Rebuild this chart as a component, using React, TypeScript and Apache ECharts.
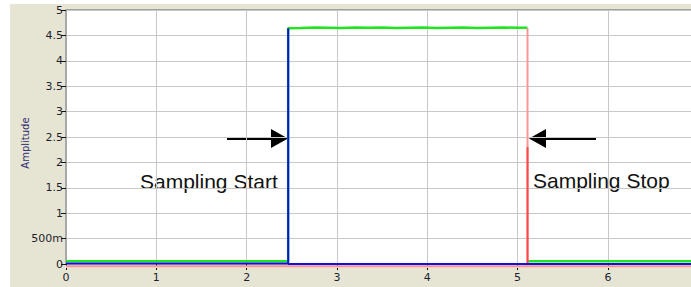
import React, { useEffect, useRef } from "react";
import * as echarts from "echarts";

const xTicks = [0, 1, 2, 3, 4, 5, 6];
const yTickLabels = ["0", "500m", "1", "1.5", "2", "2.5", "3", "3.5", "4", "4.5", "5"];
const xMax = 6.92;
const startX = 2.46;
const stopX = 5.11;
const highLevel = 4.64;

// green: measured signal
const greenTopX = [2.46, 2.6, 2.75, 2.9, 3.05, 3.2, 3.35, 3.5, 3.65, 3.8, 3.95, 4.1, 4.25, 4.4, 4.55, 4.7, 4.85, 5.0, 5.11];
const greenTopY = [4.65, 4.645, 4.655, 4.65, 4.645, 4.655, 4.65, 4.655, 4.645, 4.65, 4.655, 4.645, 4.65, 4.655, 4.645, 4.65, 4.655, 4.65, 4.65];
const greenLow = 0.055;
const blueLow = 0.0;
const redLow = -0.045;
const redDarkTop = 2.3;

export default function App() {
  const ref = useRef<HTMLDivElement>(null);
  useEffect(() => {
    if (!ref.current) return;
    const chart = echarts.init(ref.current, null, { renderer: "svg" });

    const green: (number[] | string)[] = [[0, greenLow], [startX, greenLow], [startX, highLevel]];
    greenTopX.forEach((x, i) => green.push([x, greenTopY[i]]));
    green.push("-", [stopX, greenLow], [xMax, greenLow]);

    const blue = [[0, 0.01], [startX, 0.01], [startX, highLevel], [startX, blueLow], [xMax, blueLow]];
    const red = [[0, redLow], [stopX, redLow], [stopX, highLevel], [stopX, redLow], [xMax, redLow]];
    const redDark = [[stopX, redDarkTop], [stopX, 0]];

    const labelFont = { fontFamily: "DejaVu Sans", fontSize: 11, color: "#1e1e2e" };

    chart.setOption({
      animation: false,
      backgroundColor: "transparent",
      grid: {
        left: 66,
        top: 10,
        right: 0,
        bottom: 23,
        show: true,
        backgroundColor: "#ffffff",
        borderWidth: 0,
      },
      xAxis: {
        type: "value",
        min: 0,
        max: xMax,
        interval: 1,
        axisLine: { show: false },
        axisTick: { show: true, length: 8, lineStyle: { color: "#111", type: [2, 2], width: 1 } },
        axisLabel: {
          ...labelFont,
          margin: 8,
          showMaxLabel: false,
          formatter: (v: number) => (xTicks.includes(v) ? String(v) : ""),
        },
        splitLine: { show: true, lineStyle: { color: "#c8c8c8", width: 1 } },
      },
      yAxis: {
        type: "value",
        min: 0,
        max: 5,
        interval: 0.5,
        axisLine: { show: true, lineStyle: { color: "#a8a8a8", width: 2 } },
        axisTick: { show: true, length: 5, lineStyle: { color: "#111" } },
        axisLabel: {
          ...labelFont,
          margin: 3,
          formatter: (v: number) => yTickLabels[Math.round(v * 2)] ?? "",
        },
        splitLine: { show: true, lineStyle: { color: "#c8c8c8", width: 1 } },
      },
      graphic: [
        {
          type: "line",
          shape: { x1: 66, y1: 10, x2: 691, y2: 10 },
          style: { stroke: "#a0a0a0", lineWidth: 2 },
        },
        {
          type: "text",
          x: 25,
          y: 143,
          rotation: Math.PI / 2,
          style: {
            text: "Amplitude",
            fontFamily: "DejaVu Sans",
            fontSize: 10,
            fill: "#2e2e6e",
            align: "center",
            verticalAlign: "middle",
          },
        },
        {
          type: "line",
          shape: { x1: 227, y1: 138.5, x2: 273, y2: 138.5 },
          style: { stroke: "#000", lineWidth: 3 },
        },
        {
          type: "polygon",
          shape: { points: [[271, 129], [288, 138.5], [271, 148]] },
          style: { fill: "#000" },
        },
        {
          type: "line",
          shape: { x1: 544, y1: 138.5, x2: 596, y2: 138.5 },
          style: { stroke: "#000", lineWidth: 3 },
        },
        {
          type: "polygon",
          shape: { points: [[546, 129], [529, 138.5], [546, 148]] },
          style: { fill: "#000" },
        },
        {
          type: "text",
          x: 140,
          y: 181,
          style: {
            text: "Sampling Start",
            fontFamily: "Liberation Sans",
            fontSize: 21,
            fill: "#111",
            align: "left",
            verticalAlign: "middle",
          },
        },
        {
          type: "text",
          x: 533,
          y: 180,
          style: {
            text: "Sampling Stop",
            fontFamily: "Liberation Sans",
            fontSize: 21,
            fill: "#111",
            align: "left",
            verticalAlign: "middle",
          },
        },
      ],
      series: [
        {
          type: "line",
          data: green,
          showSymbol: false,
          clip: false,
          connectNulls: false,
          lineStyle: { color: "#1ee61e", width: 2.5 },
          z: 2,
        },
        {
          type: "line",
          data: red,
          showSymbol: false,
          clip: false,
          lineStyle: { color: "#ff9494", width: 2 },
          z: 3,
        },
        {
          type: "line",
          data: redDark,
          showSymbol: false,
          clip: false,
          lineStyle: { color: "#ff4a4a", width: 2 },
          z: 4,
        },
        {
          type: "line",
          data: blue,
          showSymbol: false,
          clip: false,
          lineStyle: { color: "#1010e0", width: 2 },
          z: 5,
        },
      ],
    });
    return () => chart.dispose();
  }, []);

  return (
    <div style={{ position: "fixed", left: 0, top: 0, width: 691, height: 287, background: "#ffffff" }}>
      <div style={{ position: "absolute", left: 10, top: 4, width: 681, height: 283, background: "#e6e5d4" }} />
      <div ref={ref} style={{ position: "absolute", left: 0, top: 0, width: 691, height: 287 }} />
    </div>
  );
}
